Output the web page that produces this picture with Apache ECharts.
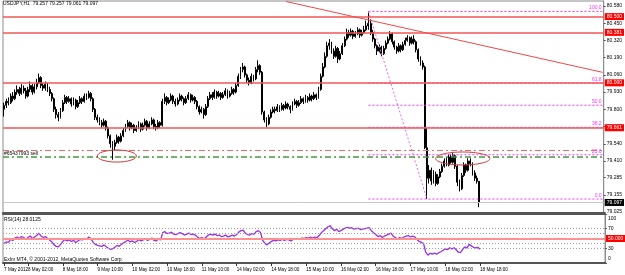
<!DOCTYPE html>
<html><head><meta charset="utf-8">
<script src="https://cdn.jsdelivr.net/npm/echarts@6/dist/echarts.min.js"></script>
<style>html,body{margin:0;padding:0;background:#fff}#c{width:625px;height:275px}</style>
</head><body><div id="c"></div>
<script>
// ---- DATA (USDJPY H1, 7 May 2012 15:00 .. 18 May 2012 18:00) ----
const opens = [
79.80,79.83,79.86,79.85,79.90,79.88,79.93,79.95,79.92,79.96,
79.94,79.90,79.95,79.98,79.93,79.97,80.00,80.04,79.98,79.96,
79.99,79.95,79.92,79.88,79.80,79.76,79.74,79.79,79.85,79.89,
79.86,79.88,79.84,79.87,79.82,79.85,79.88,79.86,79.90,79.89,
79.92,79.88,79.80,79.74,79.72,79.70,79.68,79.71,79.66,79.60,
79.54,79.52,79.55,79.59,79.56,79.60,79.64,79.67,79.70,79.66,
79.68,79.64,79.66,79.69,79.65,79.68,79.71,79.66,79.69,79.72,
79.67,79.66,79.70,79.68,79.86,79.89,79.85,79.87,79.90,79.86,
79.84,79.87,79.90,79.88,79.85,79.88,79.91,79.87,79.89,79.86,
79.82,79.78,79.80,79.76,79.82,79.88,79.91,79.89,79.93,79.90,
79.92,79.89,79.91,79.94,79.90,79.92,79.95,79.93,79.98,80.05,
80.10,80.12,80.06,80.02,80.00,80.05,80.03,80.10,80.13,80.08,
79.78,79.72,79.69,79.74,79.78,79.80,79.79,79.82,79.80,79.83,
79.81,79.84,79.82,79.80,79.84,79.86,79.83,79.85,79.88,79.86,
79.89,79.87,79.90,79.88,79.91,79.89,79.95,80.05,80.12,80.20,
80.28,80.30,80.24,80.20,80.26,80.18,80.22,80.28,80.33,80.38,
80.36,80.39,80.35,80.37,80.40,80.36,80.38,80.40,80.43,80.45,
80.38,80.33,80.28,80.24,80.27,80.22,80.26,80.30,80.33,80.37,
80.31,80.27,80.24,80.28,80.25,80.29,80.32,80.34,80.30,80.33,
80.31,80.25,80.18,80.15,80.12,79.51,79.28,79.34,79.26,79.31,
79.24,79.29,79.33,79.37,79.41,79.38,79.44,79.40,79.45,79.37,
79.25,79.20,79.30,79.38,79.34,79.41,79.39,79.32,79.28,79.257];
const highs = [
79.85,79.88,79.89,79.92,79.93,79.95,79.98,79.97,79.99,79.98,
79.96,79.97,80.01,79.99,79.99,80.03,80.07,80.05,80.00,80.01,
80.00,79.97,79.93,79.89,79.82,79.78,79.81,79.87,79.91,79.90,
79.90,79.89,79.89,79.88,79.87,79.90,79.89,79.92,79.92,79.94,
79.93,79.89,79.81,79.76,79.74,79.72,79.73,79.72,79.67,79.61,
79.56,79.57,79.61,79.60,79.62,79.66,79.69,79.72,79.71,79.70,
79.69,79.68,79.71,79.70,79.70,79.73,79.72,79.71,79.74,79.73,
79.69,79.72,79.71,79.88,79.92,79.90,79.89,79.92,79.91,79.88,
79.89,79.92,79.91,79.89,79.90,79.93,79.92,79.91,79.90,79.87,
79.83,79.82,79.81,79.84,79.90,79.93,79.93,79.95,79.94,79.94,
79.93,79.93,79.96,79.95,79.94,79.97,79.96,80.00,80.07,80.12,
80.15,80.13,80.07,80.04,80.07,80.06,80.12,80.17,80.14,80.09,
79.79,79.74,79.76,79.80,79.82,79.82,79.84,79.83,79.85,79.84,
79.86,79.85,79.83,79.86,79.88,79.87,79.87,79.90,79.89,79.91,
79.90,79.92,79.91,79.93,79.92,79.97,80.07,80.15,80.23,80.31,
80.33,80.31,80.26,80.28,80.27,80.24,80.30,80.35,80.41,80.40,
80.41,80.40,80.39,80.42,80.41,80.40,80.43,80.47,80.539,80.48,
80.40,80.34,80.29,80.29,80.28,80.28,80.32,80.35,80.39,80.38,
80.32,80.28,80.30,80.29,80.31,80.34,80.36,80.35,80.35,80.36,
80.32,80.26,80.20,80.17,80.13,79.66,79.38,79.36,79.34,79.33,
79.31,79.35,79.39,79.43,79.44,79.46,79.46,79.47,79.46,79.38,
79.27,79.32,79.40,79.39,79.43,79.43,79.40,79.34,79.30,79.257];
const lows = [
79.745,79.81,79.83,79.84,79.86,79.87,79.91,79.90,79.91,79.92,
79.88,79.89,79.93,79.91,79.92,79.95,79.99,79.96,79.94,79.94,
79.93,79.90,79.86,79.78,79.73,79.71,79.73,79.78,79.84,79.84,
79.85,79.82,79.83,79.80,79.81,79.84,79.84,79.85,79.87,79.88,
79.86,79.78,79.72,79.70,79.68,79.66,79.67,79.64,79.58,79.51,
79.42,79.49,79.54,79.54,79.55,79.59,79.63,79.66,79.64,79.65,
79.62,79.63,79.65,79.63,79.64,79.67,79.64,79.65,79.68,79.65,
79.64,79.65,79.66,79.67,79.84,79.83,79.84,79.86,79.84,79.82,
79.83,79.86,79.86,79.83,79.84,79.87,79.85,79.86,79.84,79.80,
79.76,79.77,79.73,79.75,79.81,79.87,79.87,79.88,79.88,79.89,
79.87,79.88,79.90,79.88,79.89,79.91,79.91,79.92,79.97,80.03,
80.08,80.04,80.00,79.98,79.99,80.01,80.02,80.08,80.06,79.76,
79.70,79.667,79.68,79.73,79.77,79.77,79.78,79.78,79.79,79.79,
79.80,79.80,79.77,79.79,79.83,79.81,79.82,79.84,79.84,79.85,
79.85,79.86,79.86,79.87,79.87,79.88,79.94,80.04,80.11,80.19,
80.25,80.22,80.18,80.19,80.15,80.17,80.21,80.27,80.32,80.34,
80.35,80.33,80.34,80.36,80.34,80.35,80.37,80.39,80.40,80.36,
80.31,80.26,80.21,80.23,80.20,80.21,80.25,80.29,80.32,80.29,
80.25,80.22,80.23,80.23,80.24,80.28,80.31,80.28,80.29,80.29,
80.23,80.16,80.13,80.10,79.50,79.123,79.24,79.23,79.24,79.22,
79.23,79.28,79.32,79.36,79.37,79.37,79.39,79.39,79.35,79.22,
79.18,79.19,79.29,79.32,79.33,79.37,79.30,79.26,79.24,79.061];
const closes = [
79.83,79.86,79.85,79.90,79.88,79.93,79.95,79.92,79.96,79.94,
79.90,79.95,79.98,79.93,79.97,80.00,80.04,79.98,79.96,79.99,
79.95,79.92,79.88,79.80,79.76,79.74,79.79,79.85,79.89,79.86,
79.88,79.84,79.87,79.82,79.85,79.88,79.86,79.90,79.89,79.92,
79.88,79.80,79.74,79.72,79.70,79.68,79.71,79.66,79.60,79.54,
79.52,79.55,79.59,79.56,79.60,79.64,79.67,79.70,79.66,79.68,
79.64,79.66,79.69,79.65,79.68,79.71,79.66,79.69,79.72,79.67,
79.66,79.70,79.68,79.86,79.89,79.85,79.87,79.90,79.86,79.84,
79.87,79.90,79.88,79.85,79.88,79.91,79.87,79.89,79.86,79.82,
79.78,79.80,79.76,79.82,79.88,79.91,79.89,79.93,79.90,79.92,
79.89,79.91,79.94,79.90,79.92,79.95,79.93,79.98,80.05,80.10,
80.12,80.06,80.02,80.00,80.05,80.03,80.10,80.13,80.08,79.78,
79.72,79.69,79.74,79.78,79.80,79.79,79.82,79.80,79.83,79.81,
79.84,79.82,79.80,79.84,79.86,79.83,79.85,79.88,79.86,79.89,
79.87,79.90,79.88,79.91,79.89,79.95,80.05,80.12,80.20,80.28,
80.30,80.24,80.20,80.26,80.18,80.22,80.28,80.33,80.38,80.36,
80.39,80.35,80.37,80.40,80.36,80.38,80.40,80.43,80.45,80.38,
80.33,80.28,80.24,80.27,80.22,80.26,80.30,80.33,80.37,80.31,
80.27,80.24,80.28,80.25,80.29,80.32,80.34,80.30,80.33,80.31,
80.25,80.18,80.15,80.12,79.51,79.28,79.34,79.26,79.31,79.24,
79.29,79.33,79.37,79.41,79.38,79.44,79.40,79.45,79.37,79.25,
79.20,79.30,79.38,79.34,79.41,79.39,79.32,79.28,79.257,79.097];
const rsiValues = [
40,43,42,48,46,51,53,50,54,52,
48,52,55,50,53,56,61,55,52,54,
50,47,43,37,34,33,38,44,48,45,
47,44,46,42,45,48,47,50,49,53,
49,42,38,36,35,34,37,33,30,28,
29,32,36,34,38,41,44,47,43,45,
42,44,48,45,47,50,46,48,51,46,
45,49,47,62,64,60,61,63,59,58,
60,62,60,57,59,61,58,59,57,53,
50,52,49,53,57,59,57,59,56,57,
54,55,57,53,55,57,55,58,63,66,
67,61,58,57,60,59,64,66,62,46,
40,37,41,44,46,45,47,46,48,46,
48,47,45,48,50,48,49,51,50,52,
51,53,51,53,52,56,62,66,70,74,
76,70,66,69,64,66,69,71,73,71,
72,69,70,71,68,69,70,71,72,66,
62,58,54,56,52,55,57,59,61,55,
52,49,52,50,53,55,56,53,55,53,
48,44,42,40,22,16,20,18,20,18,
21,23,26,29,27,31,29,31,27,22,
21,28,33,31,38,35,32,31,32,28.0125];
const timeLabels = ["7 May 2012","8 May 02:00","8 May 18:00","9 May 10:00","10 May 02:00","10 May 18:00","11 May 10:00","14 May 02:00","14 May 18:00","15 May 10:00","16 May 02:00","16 May 18:00","17 May 10:00","18 May 02:00","18 May 18:00"];
const timeLabelBars = [0,11,27,43,59,75,91,107,123,139,155,171,187,203,219];
const priceTicks = [80.580,80.450,80.320,80.190,80.060,79.930,79.800,79.670,79.540,79.410,79.285,79.155,79.025];
const hLevels = [80.500,80.381,80.000,79.661];
const lastPrice = 79.097;
const orderOpen = 79.440, orderStop = 79.490, orderName = "#65437993 sell";
const fibHighBar = 168, fibLowBar = 195, fibHigh = 80.539, fibLow = 79.123;
const fibLevels = [100.0, 61.8, 50.0, 38.2, 23.6, 0.0];
const trendFrom = [130, 80.614], trendTo = [276, 80.079];
const rsiLevels = [70, 60, 40, 30], rsiMid = 50, rsiTicks = [100, 70, 30, 0];
const ellipses = [ {bars:[43,61], prices:[79.402,79.493]}, {bars:[199,224], prices:[79.380,79.478]} ];
const totalSlots = 277;
const headerText = "USDJPY,H1  79.257 79.257 79.061 79.097";
const rsiTitle = "RSI(14) 28.0125";
const copyright = "Exlm MT4, \u00a9 2001-2012, MetaQuotes Software Corp.";

// ---- CHART ----
const FONT = "Liberation Sans";
const FIB = '#ff33ff';
const cats = Array.from({length: totalSlots}, (_, i) => String(i));
const labelMap = new Map(timeLabelBars.map((b, k) => [b, timeLabels[k]]));
const candles = opens.map((o, i) => [o, closes[i], lows[i], highs[i]]);

const redBox = {show:true, position:'end', distance:1, formatter: p => Number(p.value).toFixed(3), backgroundColor:'#ff0000', color:'#fff', fontSize:5, fontFamily:FONT, padding:[1,2,1,2]};
const ml = [];
hLevels.forEach(v => ml.push({yAxis:v, lineStyle:{color:'#f25656', width:1.6, type:'solid'}, label:redBox}));
ml.push({yAxis:lastPrice, lineStyle:{color:'#c8c8c8', width:1, type:'solid'}, label:Object.assign({}, redBox, {backgroundColor:'#000'})});
ml.push({yAxis:orderStop, lineStyle:{color:'#e86a6a', width:1, type:[6,3,2,3]}, label:{show:false}});
ml.push({yAxis:orderOpen, lineStyle:{color:'#3c9e3c', width:1.6, type:[6,3,2,3]}, label:{show:true, position:'insideStartTop', distance:1, formatter:orderName, color:'#000', fontSize:5, fontFamily:FONT}});
ml.push([{coord:trendFrom, lineStyle:{color:'#f04848', width:1, type:'solid'}, label:{show:false}}, {coord:trendTo}]);

const fibSeries = fibLevels.map(l => {
  const p = fibLow + (fibHigh - fibLow) * l / 100;
  return {type:'line', xAxisIndex:0, yAxisIndex:0, data:[[fibHighBar, p], [totalSlots-1, p]], symbol:'none', silent:true,
    color:FIB, lineStyle:{color:FIB, width:1, type:[2,2]}, z:3,
    markLine:{symbol:['none','none'], silent:true, animation:false, precision:3, lineStyle:{color:'rgba(255,255,255,0)', width:0},
      data:[[{coord:[fibHighBar, p], label:{show:true, position:'insideEndTop', distance:1, formatter:l.toFixed(1), color:FIB, fontSize:5, fontFamily:FONT}}, {coord:[totalSlots-1, p]}]]}};
});
fibSeries.push({type:'line', xAxisIndex:0, yAxisIndex:0, data:[[fibHighBar, fibHigh], [fibLowBar, fibLow]], symbol:'none', silent:true,
  color:FIB, lineStyle:{color:'#ee66ee', width:1, type:[2,2]}, z:3});

const rsiMl = [];
rsiLevels.forEach(v => rsiMl.push({yAxis:v, lineStyle:{color:'#a0a0a0', width:1, type:[1,2]}, label:{show:false}}));
rsiMl.push({yAxis:rsiMid, lineStyle:{color:'#ff9090', width:2, type:'solid'}, label:redBox});

const chart = echarts.init(document.getElementById('c'), null, {renderer:'canvas'});
const option = {
  animation:false,
  backgroundColor:'#ffffff',
  textStyle:{fontFamily:FONT},
  grid:[
    {left:3, right:20, top:1, height:212, show:true, borderColor:'#8c8c8c', borderWidth:1},
    {left:3, right:20, top:214, height:49, show:true, borderColor:'#8c8c8c', borderWidth:1}
  ],
  xAxis:[
    {type:'category', gridIndex:0, data:cats, boundaryGap:true, axisLine:{show:true, lineStyle:{color:'#555', width:2}}, axisTick:{show:false}, axisLabel:{show:false}, splitLine:{show:false}},
    {type:'category', gridIndex:1, data:cats, boundaryGap:true, position:'bottom',
      axisLine:{show:true, lineStyle:{color:'#555', width:2}},
      axisTick:{show:true, interval:(i)=>labelMap.has(i), alignWithLabel:true, length:3, lineStyle:{color:'#333'}},
      axisLabel:{show:true, interval:0, formatter:(v,i)=>labelMap.get(Number(v))||'', align:'left', margin:4, fontSize:4.6, color:'#000', fontFamily:FONT, hideOverlap:false},
      splitLine:{show:false}},
    {type:'category', gridIndex:1, data:cats, boundaryGap:true, position:'top', axisLine:{show:true, lineStyle:{color:'#555', width:2}}, axisTick:{show:false}, axisLabel:{show:false}}
  ],
  yAxis:[
    {type:'value', gridIndex:0, position:'right', min:79.0175, max:80.6177, splitLine:{show:false},
      axisLine:{show:true, lineStyle:{color:'#8c8c8c'}},
      axisTick:{show:true, customValues:priceTicks, length:2, lineStyle:{color:'#555'}},
      axisLabel:{customValues:priceTicks, formatter:v=>v.toFixed(3), fontSize:5, color:'#000', margin:3, fontFamily:FONT}},
    {type:'value', gridIndex:1, position:'right', min:0, max:100, splitLine:{show:false},
      axisLine:{show:true, lineStyle:{color:'#8c8c8c'}},
      axisTick:{show:true, customValues:rsiTicks, length:2, lineStyle:{color:'#555'}},
      axisLabel:{customValues:rsiTicks, fontSize:5, color:'#000', margin:3, fontFamily:FONT,
        formatter:v=> v===100 ? '{a|100}' : (v===0 ? '{b|0}' : String(v)),
        rich:{a:{fontSize:5, padding:[9,0,0,0], fontFamily:FONT}, b:{fontSize:5, padding:[0,0,9,0], fontFamily:FONT}}}}
  ],
  title:[
    {text:headerText, left:3, top:1, textStyle:{fontSize:5, fontWeight:'normal', color:'#000', fontFamily:FONT}, padding:0},
    {text:rsiTitle, left:4, top:217, textStyle:{fontSize:5, fontWeight:'normal', color:'#000', fontFamily:FONT}, padding:0},
    {text:copyright, left:4, top:257, textStyle:{fontSize:5, fontWeight:'normal', color:'#000', fontFamily:FONT}, padding:0}
  ],
  series:[
    {type:'candlestick', xAxisIndex:0, yAxisIndex:0, data:candles, barWidth:1.4,
      itemStyle:{color:'#ffffff', color0:'#000000', borderColor:'#000000', borderColor0:'#000000', borderWidth:1},
      markLine:{symbol:['none','none'], silent:true, animation:false, precision:3, data:ml}},
    ...fibSeries,
    {type:'line', xAxisIndex:1, yAxisIndex:1, data:rsiValues, showSymbol:false, symbol:'none',
      lineStyle:{color:'#9b30e8', width:1.3}, itemStyle:{color:'#9b30e8'},
      markLine:{symbol:['none','none'], silent:true, animation:false, precision:3, data:rsiMl}}
  ]
};
chart.setOption(option);

const g = ellipses.map(e => {
  const a = chart.convertToPixel({xAxisIndex:0, yAxisIndex:0}, [e.bars[0], e.prices[0]]);
  const b = chart.convertToPixel({xAxisIndex:0, yAxisIndex:0}, [e.bars[1], e.prices[1]]);
  return {type:'ellipse', shape:{cx:(a[0]+b[0])/2, cy:(a[1]+b[1])/2, rx:Math.abs(b[0]-a[0])/2, ry:Math.abs(b[1]-a[1])/2},
    style:{fill:null, stroke:'#c83c3c', lineWidth:1}, z:10, silent:true};
});
chart.setOption({graphic:g});
</script>
</body></html>
